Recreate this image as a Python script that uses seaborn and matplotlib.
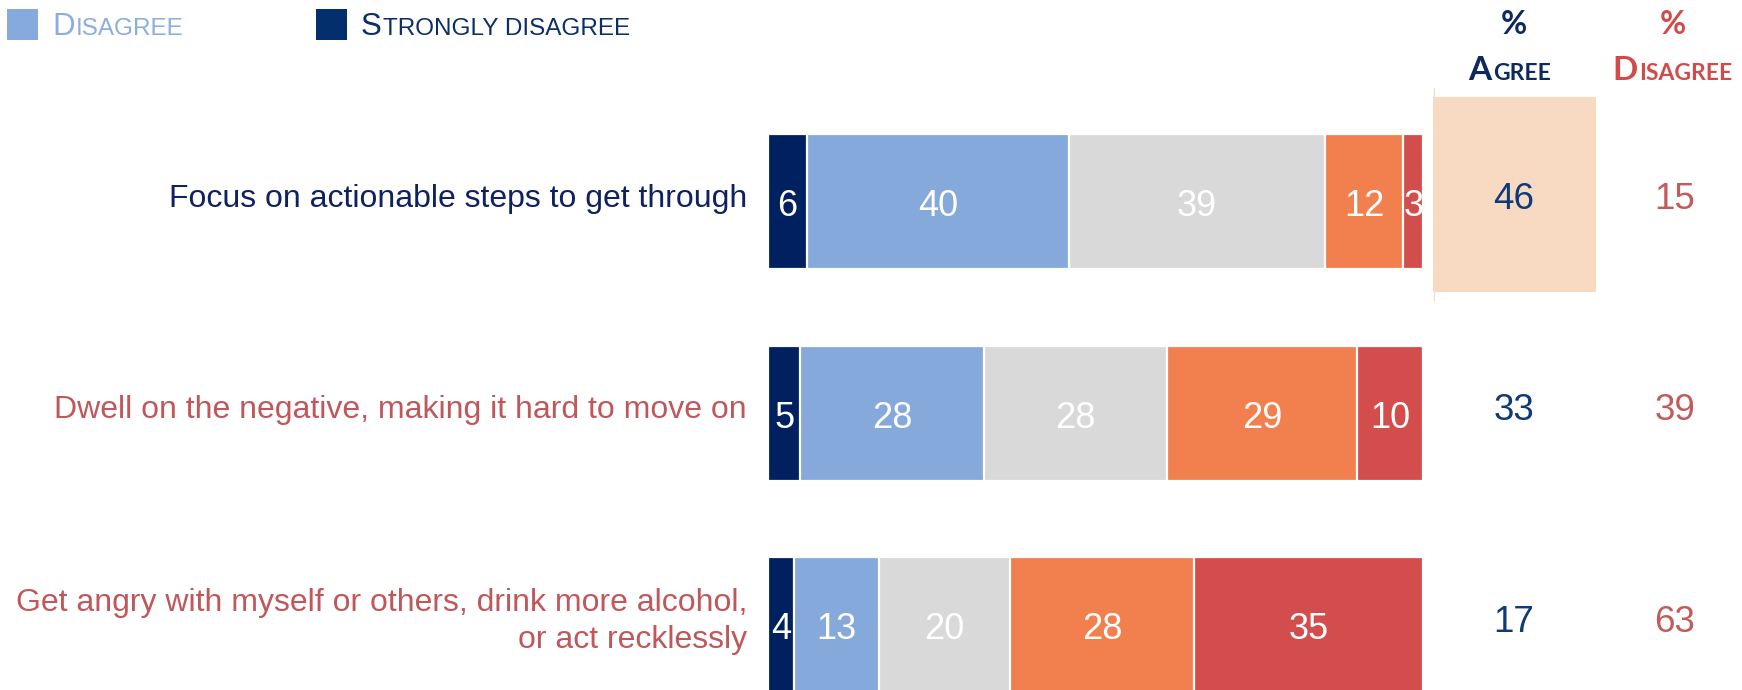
import numpy as np
import matplotlib
matplotlib.use("Agg")
import matplotlib.pyplot as plt
import matplotlib.transforms as mtransforms
from matplotlib.patches import Rectangle
from matplotlib.lines import Line2D
import seaborn as sns

# ---- data -------------------------------------------------------------
statements = [
    "Focus on actionable steps to get through",
    "Dwell on the negative, making it hard to move on",
    "Get angry with myself or others, drink more alcohol,\nor act recklessly",
]
statement_colors = ["#10215f", "#c0575a", "#c0575a"]

strongly_disagree = [6, 5, 4]
disagree = [40, 28, 13]
neutral = [39, 28, 20]
agree = [12, 29, 28]
strongly_agree = [3, 10, 35]

pct_agree = [46, 33, 17]
pct_disagree = [15, 39, 63]

segment_values = [strongly_disagree, disagree, neutral, agree, strongly_agree]
segment_colors = ["#002060", "#86a9dc", "#d9d9d9", "#f2804f", "#d44d4d"]

# ---- layout (pixels) --------------------------------------------------
W, H, DPI = 1742, 690, 100
BAR_L, BAR_R = 767.7, 1423.0
ROW0, ROW_STEP, BAR_H = 201.5, 211.5, 135.0

sns.set_theme(style="white")
plt.rcParams["font.family"] = ["Liberation Sans", "DejaVu Sans"]

fig = plt.figure(figsize=(W / DPI, H / DPI), dpi=DPI)
fig.patch.set_facecolor("white")
renderer = fig.canvas.get_renderer()


def fx(px):
    return px / W


def fy(py):
    return 1 - py / H


ax = fig.add_axes([fx(BAR_L), 0, (BAR_R - BAR_L) / W, 1])

# stacked bars: draw cumulative totals from the longest down
cum = np.cumsum(np.array(segment_values, dtype=float), axis=0)
for k in reversed(range(len(segment_values))):
    sns.barplot(
        x=cum[k], y=statements, orient="h", color=segment_colors[k],
        saturation=1, width=BAR_H / ROW_STEP, edgecolor="white",
        linewidth=1.6, errorbar=None, ax=ax,
    )

ax.set_xlim(0, 100)
ax.set_ylim((H - ROW0) / ROW_STEP, -ROW0 / ROW_STEP)
ax.axis("off")

# segment value labels
VAL_FS = 26
cap_px = 0.716 * VAL_FS * DPI / 72
val_tr = mtransforms.offset_copy(ax.transData, fig=fig, x=0, y=-cap_px / 2 - 2, units="dots")
for k, vals in enumerate(segment_values):
    for i, v in enumerate(vals):
        ax.text(cum[k][i] - v / 2, i, f"{v}", transform=val_tr, ha="center",
                va="baseline", color="white", fontsize=VAL_FS)

# statement labels
for i, (s, c) in enumerate(zip(statements, statement_colors)):
    fig.text(fx(747), fy(ROW0 + ROW_STEP * i - 3), s, ha="right", va="center",
             multialignment="right", color=c, fontsize=23, linespacing=1.27)

# highlight box behind the first "% agree" value
fig.patches.append(Rectangle((fx(1433), fy(292)), (1596 - 1433) / W, (292 - 97) / H,
                             transform=fig.transFigure, facecolor="#f8d9c2",
                             edgecolor="none", zorder=0))
fig.lines.append(Line2D([fx(1433.5), fx(1433.5)], [fy(88), fy(300)],
                        transform=fig.transFigure, color="#f4dccb", lw=1, zorder=0))

# % agree / % disagree columns
NUM_FS = 26.5
num_cap = 0.716 * NUM_FS * DPI / 72
for i in range(len(statements)):
    base = ROW0 + ROW_STEP * i - 6 + num_cap / 2
    fig.text(fx(1514), fy(base), f"{pct_agree[i]}", ha="center", va="baseline",
             color="#0d3a78", fontsize=NUM_FS)
    fig.text(fx(1675), fy(base), f"{pct_disagree[i]}", ha="center", va="baseline",
             color="#c25b5b", fontsize=NUM_FS)


def caps_text(x_px, base_px, pieces, color, ha="left", **kw):
    """Small-caps style text: a list of (string, fontsize) runs laid out side by side."""
    arts, widths = [], []
    for s, fs in pieces:
        t = fig.text(0, 0, s, fontsize=fs, color=color, va="baseline", ha="left", **kw)
        widths.append(t.get_window_extent(renderer).width + 1)
        arts.append(t)
    total = sum(widths)
    x = x_px - total / 2 if ha == "center" else x_px
    for t, w in zip(arts, widths):
        t.set_position((fx(x), fy(base_px)))
        x += w


# column headers
HDR_KW = dict(family=["Lato", "DejaVu Sans"], weight="bold")
caps_text(1514, 34, [("%", 23)], "#0e2a5c", ha="center", **HDR_KW)
caps_text(1510, 80, [("A", 24), ("GREE", 16.5)], "#0e2a5c", ha="center", **HDR_KW)
caps_text(1673, 34, [("%", 23)], "#d24b4b", ha="center", **HDR_KW)
caps_text(1673, 80, [("D", 24), ("ISAGREE", 16.5)], "#d24b4b", ha="center", **HDR_KW)

# legend
legend_items = [("Disagree", 7, 52, "#86aadc", "#8aaede"),
                ("Strongly disagree", 316, 361, "#03306c", "#0c2f6a")]
for label, sq_x, tx, sq_c, txt_c in legend_items:
    fig.patches.append(Rectangle((fx(sq_x), fy(40)), 31 / W, 31 / H,
                                 transform=fig.transFigure, facecolor=sq_c,
                                 edgecolor="none"))
    caps_text(tx, 35, [(label[0].upper(), 22.5), (label[1:].upper(), 17.5)], txt_c)

fig.savefig("out.png", dpi=DPI, facecolor="white")
